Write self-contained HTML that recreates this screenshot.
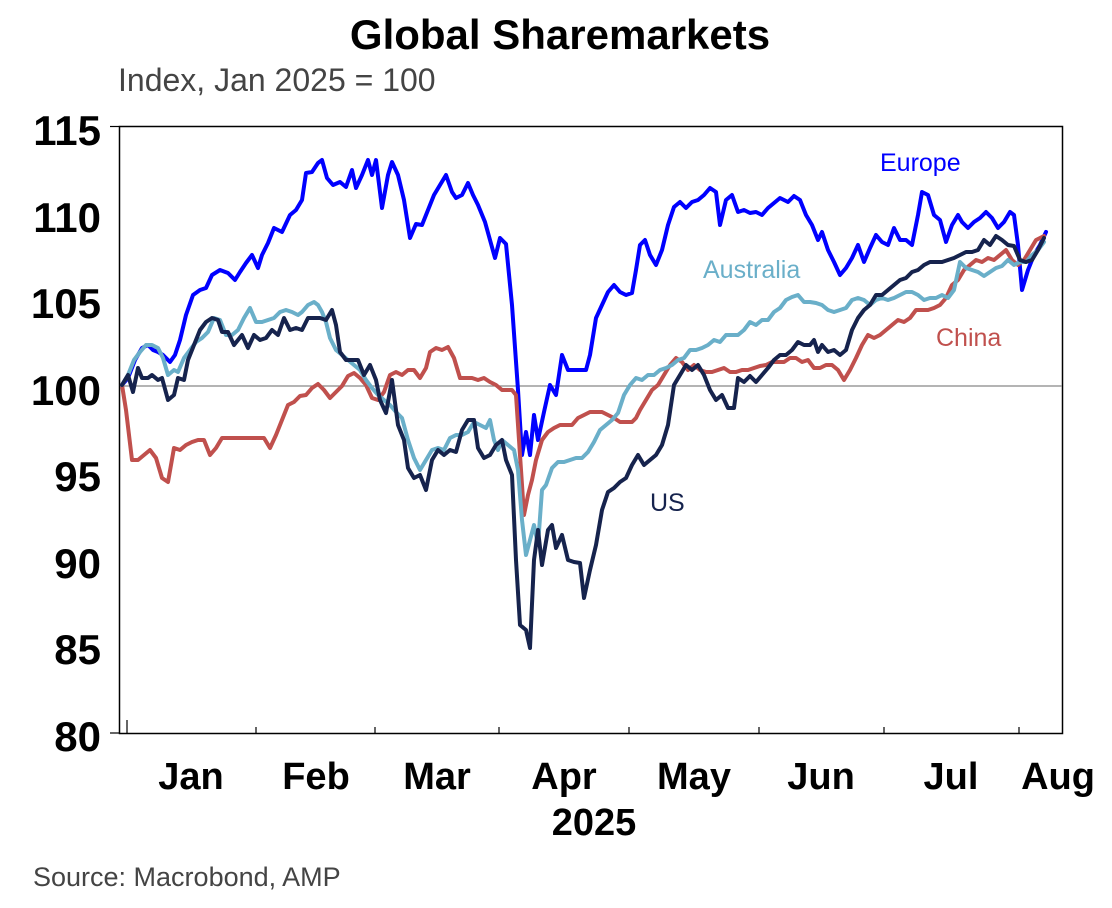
<!DOCTYPE html>
<html><head><meta charset="utf-8"><style>
html,body{margin:0;padding:0;background:#fff;width:1112px;height:908px;overflow:hidden}
svg text{font-family:"Liberation Sans",Arial,sans-serif}
</style></head><body>
<svg width="1112" height="908" viewBox="0 0 1112 908" xmlns="http://www.w3.org/2000/svg">
<text x="560" y="49" text-anchor="middle" font-size="42" font-weight="bold" fill="#000">Global Sharemarkets</text>
<text x="118" y="91" font-size="32" fill="#444">Index, Jan 2025 = 100</text>
<rect x="119.5" y="126.5" width="943" height="607" fill="none" stroke="#000" stroke-width="1.5"/>
<line x1="120" y1="386" x2="1062" y2="386" stroke="#888" stroke-width="1.3"/>
<g stroke="#000" stroke-width="1.2">
<line x1="110" y1="126.5" x2="119" y2="126.5"/><line x1="110" y1="733" x2="119" y2="733"/>
<line x1="127" y1="733" x2="127" y2="720"/>
<line x1="256" y1="733" x2="256" y2="727"/><line x1="375" y1="733" x2="375" y2="727"/><line x1="499" y1="733" x2="499" y2="727"/><line x1="629" y1="733" x2="629" y2="727"/><line x1="759" y1="733" x2="759" y2="727"/><line x1="884" y1="733" x2="884" y2="727"/><line x1="1019" y1="733" x2="1019" y2="727"/>
</g>
<g font-size="42" font-weight="bold" text-anchor="end" fill="#000">
<text x="101" y="145">115</text><text x="101" y="232">110</text><text x="101" y="318">105</text><text x="101" y="405">100</text><text x="101" y="491">95</text><text x="101" y="578">90</text><text x="101" y="664">85</text><text x="101" y="751">80</text>
</g>
<g font-size="38" font-weight="bold" text-anchor="middle" fill="#000">
<text x="191" y="789">Jan</text><text x="316" y="789">Feb</text><text x="437" y="789">Mar</text><text x="564" y="789">Apr</text><text x="694" y="789">May</text><text x="821" y="789">Jun</text><text x="951" y="789">Jul</text><text x="1058" y="789">Aug</text>
<text x="594" y="835">2025</text>
</g>
<text x="33" y="886" font-size="27" fill="#444">Source: Macrobond, AMP</text>
<g fill="none" stroke-width="4" stroke-linejoin="round" stroke-linecap="round">
<polyline stroke="#0000ff" points="122,385 128,378 135,360 142,348 148,345 153,350 158,352 163,355 170,362 175,355 180,340 186,315 193,295 200,290 206,288 212,275 220,270 228,273 235,280 240,272 246,263 252,255 258,268 262,255 268,243 274,228 282,232 290,215 296,210 302,200 306,173 312,172 318,163 322,160 327,178 333,185 340,182 346,187 352,170 356,188 362,175 368,160 372,175 376,160 382,208 388,175 392,162 398,175 404,200 410,238 416,224 422,225 428,210 434,195 440,185 446,175 452,192 456,198 462,195 468,183 473,195 478,205 485,222 490,240 495,258 500,238 506,244 512,305 518,390 522,455 526,432 530,455 534,415 538,440 544,412 550,385 556,395 562,355 568,370 574,370 580,370 586,370 590,355 596,318 602,305 608,292 614,285 620,292 626,295 632,293 636,270 640,245 645,240 650,255 656,265 662,250 668,225 674,207 680,202 686,208 692,202 698,200 704,195 710,188 716,192 720,225 726,200 732,195 738,212 744,210 750,213 756,212 762,215 768,208 774,203 780,198 788,202 794,196 800,200 806,215 812,225 818,240 822,232 828,250 834,262 840,275 846,268 852,258 858,245 864,262 870,248 876,235 882,242 888,245 894,228 900,240 906,240 912,245 918,215 922,192 928,195 934,215 940,220 946,242 952,225 958,215 962,222 968,228 974,222 980,218 986,212 992,218 998,228 1004,222 1010,212 1014,215 1018,245 1022,290 1028,270 1034,255 1040,245 1046,232"/>
<polyline stroke="#c0504d" points="122,385 126,410 132,460 138,460 144,455 150,450 156,458 162,478 168,482 174,448 180,450 186,445 192,442 198,440 204,440 210,455 216,448 222,438 228,438 234,438 240,438 246,438 252,438 258,438 264,438 270,448 276,435 282,420 288,405 294,402 300,396 306,395 312,388 318,384 324,390 330,398 336,392 342,386 348,376 354,373 360,378 366,385 372,398 378,400 384,392 390,375 396,372 402,375 408,370 414,370 420,378 426,368 430,352 436,348 442,350 448,347 454,358 460,378 466,378 472,378 478,380 484,378 490,382 496,385 502,390 508,390 512,390 516,395 520,455 524,515 528,495 532,480 536,460 542,440 548,432 554,428 560,425 566,425 572,425 578,418 584,415 590,412 596,412 602,412 608,415 614,418 620,422 626,422 632,422 636,418 640,410 646,400 652,390 658,385 664,375 670,365 676,358 682,362 688,370 694,365 700,370 706,372 712,372 718,370 724,368 730,372 736,372 742,370 748,370 754,368 760,366 766,365 772,362 778,362 784,362 790,358 796,358 802,362 808,360 814,368 820,368 826,365 832,365 838,370 844,380 850,370 856,358 862,345 868,335 874,338 880,335 886,330 892,325 898,320 904,322 910,318 916,310 922,310 928,310 934,308 940,305 946,298 952,285 958,280 964,270 970,265 976,260 982,262 988,258 994,260 1000,255 1006,250 1012,260 1018,265 1024,260 1030,250 1036,240 1044,236"/>
<polyline stroke="#6aafc9" points="122,385 128,375 134,360 140,352 146,345 152,345 158,348 163,358 168,375 174,370 178,372 184,358 190,350 196,342 202,338 208,332 214,318 220,320 226,335 232,335 238,330 244,318 250,308 256,322 262,322 268,320 274,318 280,312 286,310 292,312 298,315 302,312 308,305 314,302 318,305 322,312 326,322 330,338 336,350 342,355 348,360 354,365 360,370 366,380 372,388 378,395 384,400 390,405 396,412 402,418 408,440 414,458 420,470 426,460 432,450 438,448 444,450 450,438 456,435 462,435 468,432 474,422 480,425 486,428 490,420 494,440 498,450 502,440 508,445 514,450 518,470 522,520 526,555 530,540 534,525 538,545 542,490 546,485 552,468 558,462 564,462 570,460 576,458 582,458 588,452 594,442 600,430 606,425 612,420 618,413 624,395 630,385 636,378 642,380 648,375 654,375 660,370 666,368 672,365 678,360 684,358 690,350 696,350 702,348 708,345 714,340 720,342 726,335 732,335 738,335 744,330 750,322 756,325 762,320 768,320 774,312 780,308 786,300 792,297 798,295 804,302 810,302 816,303 822,305 828,310 834,312 840,310 846,308 852,300 858,298 864,300 870,305 876,300 882,298 888,300 894,298 900,295 906,292 912,292 918,295 924,300 930,298 936,298 942,295 948,298 954,290 960,262 966,268 972,270 978,272 984,276 990,272 996,268 1002,266 1008,260 1014,265 1020,262 1026,262 1032,255 1038,250 1044,242"/>
<polyline stroke="#16234d" points="122,385 128,375 133,392 138,368 142,378 148,378 152,375 158,380 162,378 168,400 174,395 178,378 184,380 188,360 194,345 200,330 206,322 212,318 218,320 222,332 228,332 234,345 238,340 242,335 248,348 254,335 260,340 266,338 272,330 278,335 284,318 290,330 296,328 302,330 308,318 314,318 320,318 326,320 332,310 336,325 340,352 346,360 352,360 358,360 364,375 370,365 376,380 380,400 386,413 392,380 398,425 404,440 408,468 414,478 420,475 426,490 432,460 438,450 444,455 450,450 456,452 462,430 468,420 474,420 478,448 484,458 490,455 496,445 502,440 506,460 512,475 516,560 520,625 526,630 530,648 534,560 538,530 542,565 548,530 552,525 556,548 562,535 568,560 574,562 580,563 584,598 590,570 596,545 602,510 608,492 614,488 620,482 626,478 632,465 638,455 644,465 650,460 656,455 662,445 668,425 674,385 680,375 686,365 692,370 698,365 704,375 710,390 716,400 722,395 728,408 734,408 738,378 744,382 750,376 756,382 762,375 768,368 774,360 780,355 786,355 792,350 798,342 804,345 810,345 814,340 818,352 822,345 828,352 834,350 840,355 846,350 852,330 858,318 864,310 870,305 876,295 882,295 888,290 894,285 900,280 906,278 912,272 918,270 924,265 930,262 936,262 942,262 948,260 954,258 960,255 966,252 972,252 978,250 984,240 990,245 996,236 1002,240 1008,245 1014,246 1020,260 1026,262 1032,260 1038,250 1044,238"/>
</g>
<g font-size="25">
<text x="880" y="171" fill="#0000ff">Europe</text>
<text x="703" y="278" fill="#6aafc9">Australia</text>
<text x="936" y="346" fill="#c0504d">China</text>
<text x="650" y="511" fill="#16234d">US</text>
</g>
</svg>
</body></html>
